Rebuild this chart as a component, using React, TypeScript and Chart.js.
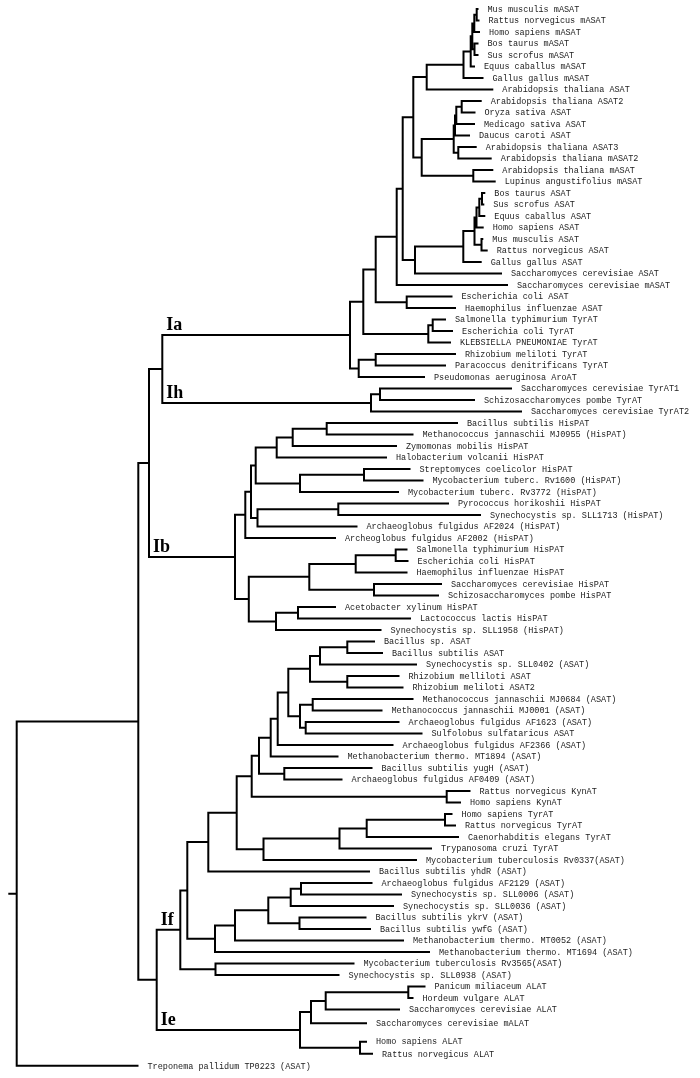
import React, { useEffect, useRef } from 'react';
import { Chart, registerables } from 'chart.js';

Chart.register(...registerables);

const leafNames = [
  'Mus musculis mASAT', 'Rattus norvegicus mASAT', 'Homo sapiens mASAT', 'Bos taurus mASAT', 'Sus scrofus mASAT',
  'Equus caballus mASAT', 'Gallus gallus mASAT', 'Arabidopsis thaliana ASAT', 'Arabidopsis thaliana ASAT2', 'Oryza sativa ASAT',
  'Medicago sativa ASAT', 'Daucus caroti ASAT', 'Arabidopsis thaliana ASAT3', 'Arabidopsis thaliana mASAT2', 'Arabidopsis thaliana mASAT',
  'Lupinus angustifolius mASAT', 'Bos taurus ASAT', 'Sus scrofus ASAT', 'Equus caballus ASAT', 'Homo sapiens ASAT',
  'Mus musculis ASAT', 'Rattus norvegicus ASAT', 'Gallus gallus ASAT', 'Saccharomyces cerevisiae ASAT', 'Saccharomyces cerevisiae mASAT',
  'Escherichia coli ASAT', 'Haemophilus influenzae ASAT', 'Salmonella typhimurium TyrAT', 'Escherichia coli TyrAT', 'KLEBSIELLA PNEUMONIAE TyrAT',
  'Rhizobium meliloti TyrAT', 'Paracoccus denitrificans TyrAT', 'Pseudomonas aeruginosa AroAT', 'Saccharomyces cerevisiae TyrAT1', 'Schizosaccharomyces pombe TyrAT',
  'Saccharomyces cerevisiae TyrAT2', 'Bacillus subtilis HisPAT', 'Methanococcus jannaschii MJ0955 (HisPAT)', 'Zymomonas mobilis HisPAT', 'Halobacterium volcanii HisPAT',
  'Streptomyces coelicolor HisPAT', 'Mycobacterium tuberc. Rv1600 (HisPAT)', 'Mycobacterium tuberc. Rv3772 (HisPAT)', 'Pyrococcus horikoshii HisPAT', 'Synechocystis sp. SLL1713 (HisPAT)',
  'Archaeoglobus fulgidus AF2024 (HisPAT)', 'Archeoglobus fulgidus AF2002 (HisPAT)', 'Salmonella typhimurium HisPAT', 'Escherichia coli HisPAT', 'Haemophilus influenzae HisPAT',
  'Saccharomyces cerevisiae HisPAT', 'Schizosaccharomyces pombe HisPAT', 'Acetobacter xylinum HisPAT', 'Lactococcus lactis HisPAT', 'Synechocystis sp. SLL1958 (HisPAT)',
  'Bacillus sp. ASAT', 'Bacillus subtilis ASAT', 'Synechocystis sp. SLL0402 (ASAT)', 'Rhizobium melliloti ASAT', 'Rhizobium meliloti ASAT2',
  'Methanococcus jannaschii MJ0684 (ASAT)', 'Methanococcus jannaschii MJ0001 (ASAT)', 'Archaeoglobus fulgidus AF1623 (ASAT)', 'Sulfolobus sulfataricus ASAT', 'Archaeoglobus fulgidus AF2366 (ASAT)',
  'Methanobacterium thermo. MT1894 (ASAT)', 'Bacillus subtilis yugH (ASAT)', 'Archaeoglobus fulgidus AF0409 (ASAT)', 'Rattus norvegicus KynAT', 'Homo sapiens KynAT',
  'Homo sapiens TyrAT', 'Rattus norvegicus TyrAT', 'Caenorhabditis elegans TyrAT', 'Trypanosoma cruzi TyrAT', 'Mycobacterium tuberculosis Rv0337(ASAT)',
  'Bacillus subtilis yhdR (ASAT)', 'Archaeoglobus fulgidus AF2129 (ASAT)', 'Synechocystis sp. SLL0006 (ASAT)', 'Synechocystis sp. SLL0036 (ASAT)', 'Bacillus subtilis ykrV (ASAT)',
  'Bacillus subtilis ywfG (ASAT)', 'Methanobacterium thermo. MT0052 (ASAT)', 'Methanobacterium thermo. MT1694 (ASAT)', 'Mycobacterium tuberculosis Rv3565(ASAT)', 'Synechocystis sp. SLL0938 (ASAT)',
  'Panicum miliaceum ALAT', 'Hordeum vulgare ALAT', 'Saccharomyces cerevisiae ALAT', 'Saccharomyces cerevisiae mALAT', 'Homo sapiens ALAT',
  'Rattus norvegicus ALAT', 'Treponema pallidum TP0223 (ASAT)',
];

const leafRows = [
  0, 1, 2, 3, 4, 5, 6, 7, 8, 9,
  10, 11, 12, 13, 14, 15, 16, 17, 18, 19,
  20, 21, 22, 23, 24, 25, 26, 27, 28, 29,
  30, 31, 32, 33, 34, 35, 36, 37, 38, 39,
  40, 41, 42, 43, 44, 45, 46, 47, 48, 49,
  50, 51, 52, 53, 54, 55, 56, 57, 58, 59,
  60, 61, 62, 63, 64, 65, 66, 67, 68, 69,
  70, 71, 72, 73, 74, 75, 76, 77, 78, 79,
  80, 81, 82, 83, 84, 85, 86, 87, 88.2, 89.8,
  90.85, 91.9,
];

const leafTips = [
  478.5, 479.5, 480, 478.5, 478.5, 475, 483.5, 493.3, 481.7, 475.5,
  475, 470, 476.7, 491.7, 493.3, 495.7, 485.3, 484.3, 485.3, 483.7,
  483.3, 487.7, 481.7, 502, 508, 452.5, 456, 446, 453, 451,
  456, 446, 425, 512, 475, 522, 458, 413.5, 397, 387,
  410.5, 423.5, 399, 449, 481, 357.5, 336, 407.5, 408.5, 407.5,
  442, 439, 336, 411, 381.5, 375, 383, 417, 399.5, 403.5,
  413.5, 382.5, 399.5, 422.5, 393.5, 338.5, 372.5, 342.5, 470.5, 461,
  452.5, 456, 459, 432, 417, 370, 372.5, 402, 394, 366.5,
  371, 404, 430, 354.5, 339.5, 425.5, 413.5, 400, 367, 367,
  373, 138.5,
];

const leafParents = [
  'MRm', 'MRm', 'MRH', 'BSm', 'BSm', 'MM5', 'MG', 'MGA', 'AO', 'AO',
  'AOM', 'AOMD', 'A3M2', 'A3M2', 'MLu', 'MLu', 'BSa', 'BSa', 'BSE', 'BSEH',
  'MRa', 'MRa', 'MAMG', 'SA', 'P3', 'EcHi', 'EcHi', 'T2', 'T2', 'T1',
  'RP', 'RP', 'RPP', 'Ih2', 'Ih2', 'IH', 'BM', 'BM', 'BMZ', 'BMZH',
  'SR', 'SR', 'SRR', 'PS', 'PS', 'PSA', 'G1', 'SE', 'SE', 'SEH',
  'SS', 'SS', 'AL', 'AL', 'ALS', 'BB', 'BB', 'BBS', 'RR', 'RR',
  'MJ', 'MJ', 'AS', 'AS', 'Q2', 'Q3', 'YA', 'YA', 'KY', 'KY',
  'HRT', 'HRT', 'HRC', 'HRCT', 'F12', 'F6', 'AFS', 'AFS', 'F5', 'YY',
  'YY', 'F3', 'F2', 'RS', 'RS', 'PH', 'PH', 'PHS', 'PHSM', 'HRA',
  'HRA', 'ROOT',
];

const nodeIds = [
  'ROOT', 'NI', 'NAB', 'NAH', 'IA', 'C', 'B', 'P3', 'P2', 'P1',
  'MGA', 'MG', 'MM5', 'MM4', 'MRH', 'MRm', 'BSm', 'PL', 'PLANT', 'AOMD',
  'AOM', 'AO', 'A3M2', 'MLu', 'SA', 'MAMG', 'MAM', 'BSEH', 'BSE', 'BSa',
  'MRa', 'EcHi', 'T1', 'T2', 'RPP', 'RP', 'IH', 'Ih2', 'IB', 'G1',
  'G1b', 'G1a', 'BMZH', 'BMZ', 'BM', 'SRR', 'SR', 'PSA', 'PS', 'G2',
  'G2a', 'SEH', 'SE', 'SS', 'ALS', 'AL', 'NFE', 'IF', 'F1', 'F6',
  'F7', 'F8', 'Q4', 'Q3', 'Q2', 'Q1', 'BBSRR', 'BBS', 'BB', 'RR',
  'MJAS', 'MJ', 'AS', 'YA', 'KY', 'F12', 'HRCT', 'HRC', 'HRT', 'F2',
  'F3', 'F4', 'F5', 'AFS', 'YY', 'RS', 'IE', 'PHSM', 'PHS', 'PH',
  'HRA',
];

const nodeXs = [
  16.7, 138.3, 149, 162.3, 350, 363.3, 375.7, 396.7, 402.7, 413.3,
  426.7, 463.5, 470.7, 472.3, 474.3, 476.7, 474.5, 421.7, 453.7, 455,
  456.3, 461.7, 458.3, 473.3, 415, 463.3, 474.5, 476.5, 479.3, 482,
  481.5, 406.7, 428.3, 432.7, 358.7, 375.7, 371, 380, 235, 245.3,
  251, 255.7, 276.7, 292.7, 326.7, 300, 364, 257.5, 338.3, 248.8,
  309.3, 355.7, 395.7, 374, 276, 298, 156.7, 180.3, 187.3, 208.3,
  236.7, 251.7, 259, 270.7, 277.7, 288.3, 310, 320, 347.3, 347.3,
  300, 312.7, 305.7, 284.3, 446.7, 263.5, 339.5, 366.7, 445, 215,
  235, 268.3, 290.7, 301, 299.5, 215.5, 300, 311, 325.7, 408.3,
  360,
];

const nodeParents = [
  '', 'ROOT', 'NI', 'NAB', 'NAH', 'IA', 'C', 'B', 'P3', 'P2',
  'P1', 'MGA', 'MG', 'MM5', 'MM4', 'MRH', 'MM4', 'P1', 'PL', 'PLANT',
  'AOMD', 'AOM', 'PLANT', 'PL', 'P2', 'SA', 'MAMG', 'MAM', 'BSEH', 'BSE',
  'MAM', 'B', 'C', 'T1', 'IA', 'RPP', 'NAH', 'IH', 'NAB', 'IB',
  'G1', 'G1b', 'G1a', 'BMZH', 'BMZ', 'G1a', 'SRR', 'G1b', 'PSA', 'IB',
  'G2', 'G2a', 'SEH', 'G2a', 'G2', 'ALS', 'NI', 'NFE', 'IF', 'F1',
  'F6', 'F7', 'F8', 'Q4', 'Q3', 'Q2', 'Q1', 'BBSRR', 'BBS', 'BBSRR',
  'Q1', 'MJAS', 'MJAS', 'Q4', 'F8', 'F7', 'F12', 'HRCT', 'HRC', 'F1',
  'F2', 'F3', 'F4', 'F5', 'F4', 'IF', 'NFE', 'IE', 'PHSM', 'PHS',
  'IE',
];

const rootStemStart = 8.3;
const cladeLabels = ['Ia', 'Ih', 'Ib', 'If', 'Ie'];
const cladeNodes = ['IA', 'IH', 'IB', 'IF', 'IE'];

type Pt = { x: number | null; y: number | null };

function buildTree() {
  const xOf: Record<string, number> = {};
  const parentOf: Record<string, string> = {};
  const kids: Record<string, { x: number; y: number | null; id?: string }[]> = {};
  nodeIds.forEach((id, i) => {
    xOf[id] = nodeXs[i];
    parentOf[id] = nodeParents[i];
    kids[id] = [];
  });
  leafNames.forEach((_, i) => {
    kids[leafParents[i]].push({ x: leafTips[i], y: leafRows[i] });
  });
  nodeIds.forEach((id, i) => {
    if (nodeParents[i]) kids[nodeParents[i]].push({ x: nodeXs[i], y: null, id });
  });
  const yOf: Record<string, number> = {};
  const getY = (id: string): number => {
    if (yOf[id] !== undefined) return yOf[id];
    const ys = kids[id].map((k) => (k.id ? getY(k.id) : (k.y as number)));
    const y = (Math.min(...ys) + Math.max(...ys)) / 2;
    yOf[id] = y;
    return y;
  };
  nodeIds.forEach((id) => getY(id));

  const pts: Pt[] = [];
  nodeIds.forEach((id) => {
    const ch = kids[id]
      .map((k) => ({ x: k.x, y: k.id ? yOf[k.id] : (k.y as number) }))
      .sort((a, b) => a.y - b.y);
    const first = ch[0];
    const last = ch[ch.length - 1];
    const nx = xOf[id];
    pts.push({ x: first.x, y: first.y }, { x: nx, y: first.y }, { x: nx, y: last.y }, { x: last.x, y: last.y });
    pts.push({ x: null, y: null });
    for (let j = 1; j < ch.length - 1; j++) {
      pts.push({ x: nx, y: ch[j].y }, { x: ch[j].x, y: ch[j].y }, { x: null, y: null });
    }
  });
  pts.push({ x: rootStemStart, y: yOf['ROOT'] }, { x: xOf['ROOT'], y: yOf['ROOT'] });
  return { pts, xOf, yOf, parentOf };
}

export default function App() {
  const ref = useRef<HTMLCanvasElement | null>(null);
  useEffect(() => {
    if (!ref.current) return;
    const { pts, xOf, yOf, parentOf } = buildTree();
    const labelPlugin = {
      id: 'treeLabels',
      afterDatasetsDraw(chart: any) {
        const ctx = chart.ctx;
        const xs = chart.scales.x;
        const ys = chart.scales.y;
        ctx.save();
        ctx.fillStyle = '#222';
        ctx.font = '8.5px "Liberation Mono", "Courier New", monospace';
        ctx.textBaseline = 'middle';
        ctx.textAlign = 'left';
        leafNames.forEach((name, i) => {
          ctx.fillText(name, xs.getPixelForValue(leafTips[i]) + 9, ys.getPixelForValue(leafRows[i]) + 0.5);
        });
        ctx.fillStyle = '#000';
        ctx.font = 'bold 18px "Liberation Serif", "Times New Roman", serif';
        ctx.textBaseline = 'alphabetic';
        cladeLabels.forEach((lab, i) => {
          const id = cladeNodes[i];
          const px = xs.getPixelForValue(xOf[parentOf[id]]) + 4;
          const py = ys.getPixelForValue(yOf[id]) - 5;
          ctx.fillText(lab, px, py);
        });
        ctx.restore();
      },
    };
    const chart = new Chart(ref.current, {
      type: 'scatter',
      data: {
        datasets: [
          {
            data: pts as any,
            showLine: true,
            spanGaps: false,
            borderColor: '#000',
            borderWidth: 2,
            pointRadius: 0,
            pointHoverRadius: 0,
            tension: 0,
            borderJoinStyle: 'miter',
          } as any,
        ],
      },
      options: {
        animation: false,
        responsive: false,
        devicePixelRatio: 1,
        layout: { padding: 0 },
        plugins: { legend: { display: false }, tooltip: { enabled: false } },
        events: [],
        scales: {
          x: { type: 'linear', display: false, min: 0, max: 700 },
          y: { type: 'linear', display: false, reverse: true, min: -9 / 11.5, max: 1069 / 11.5 },
        },
      },
      plugins: [labelPlugin],
    });
    return () => chart.destroy();
  }, []);
  return (
    <div style={{ position: 'absolute', left: 0, top: 0, width: 700, height: 1078, background: '#fff' }}>
      <canvas ref={ref} width={700} height={1078} style={{ display: 'block', width: 700, height: 1078 }} />
    </div>
  );
}
